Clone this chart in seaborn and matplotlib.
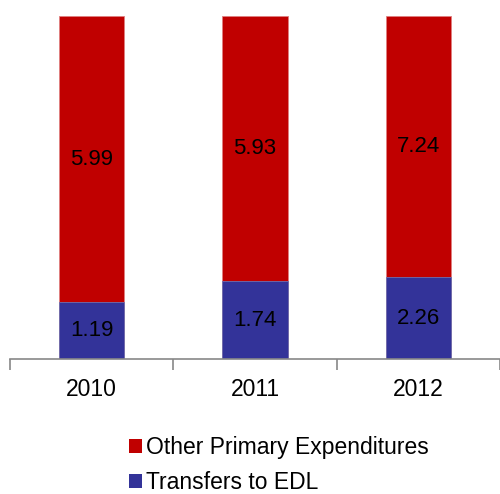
import numpy as np
import pandas as pd
import matplotlib
matplotlib.use('Agg')
import matplotlib.pyplot as plt
import seaborn as sns
from matplotlib.patches import Patch

years = ['2010', '2011', '2012']
transfers_edl = [1.19, 1.74, 2.26]
other_primary = [5.99, 5.93, 7.24]

red = '#C00000'
blue = '#333399'

df = pd.DataFrame({'year': years, 'edl': transfers_edl, 'other': other_primary})
df['total'] = df.edl + df.other
df['edl_share'] = df.edl / df.total
df['full'] = 1.0

sns.set_style('white')
plt.rcParams['font.family'] = ['Liberation Sans', 'DejaVu Sans']
plt.rcParams['text.color'] = 'black'
plt.rcParams['xtick.color'] = 'black'

fig = plt.figure(figsize=(5, 4.94), dpi=100)
ax = fig.add_axes([0.02, 0.2733, 0.98, 0.6943])

# 100% stacked: draw full bar in red, then the EDL share in blue over it
sns.barplot(data=df, x='year', y='full', color=red, width=0.4, saturation=1,
            edgecolor='#e08080', linewidth=0.6, ax=ax)
sns.barplot(data=df, x='year', y='edl_share', color=blue, width=0.4, saturation=1,
            edgecolor='#7070b0', linewidth=0.6, ax=ax)

for i, row in df.iterrows():
    ax.text(i, row.edl_share / 2, f'{row.edl:.2f}', ha='center', va='center',
            fontsize=16, color='black')
    ax.text(i, (1 + row.edl_share) / 2, f'{row.other:.2f}', ha='center', va='center',
            fontsize=16, color='black')

ax.set_xlim(-0.5, 2.5)
ax.set_ylim(0, 1)
ax.set_xlabel('')
ax.set_ylabel('')
ax.set_yticks([])
for s in ['top', 'left', 'right']:
    ax.spines[s].set_visible(False)
ax.spines['bottom'].set_color('#888888')
ax.spines['bottom'].set_linewidth(1.2)
ax.set_xticks([0, 1, 2])
ax.set_xticklabels(years, fontsize=16.5, color='black')
ax.set_xticks([-0.5, 0.5, 1.5, 2.5], minor=True)
ax.tick_params(axis='x', which='major', bottom=False, length=0, pad=14)
ax.tick_params(axis='x', which='minor', bottom=True, length=8, width=1.2,
               color='#888888', direction='out')

handles = [Patch(facecolor=red, edgecolor='none', label='Other Primary Expenditures'),
           Patch(facecolor=blue, edgecolor='none', label='Transfers to EDL')]
fig.legend(handles=handles, loc='upper left', bbox_to_anchor=(0.258, 0.118), frameon=False,
           fontsize=16.5, handlelength=0.56, handleheight=0.56, handletextpad=0.2,
           labelspacing=0.55, borderpad=0, borderaxespad=0)

fig.savefig('out.png', dpi=100)
